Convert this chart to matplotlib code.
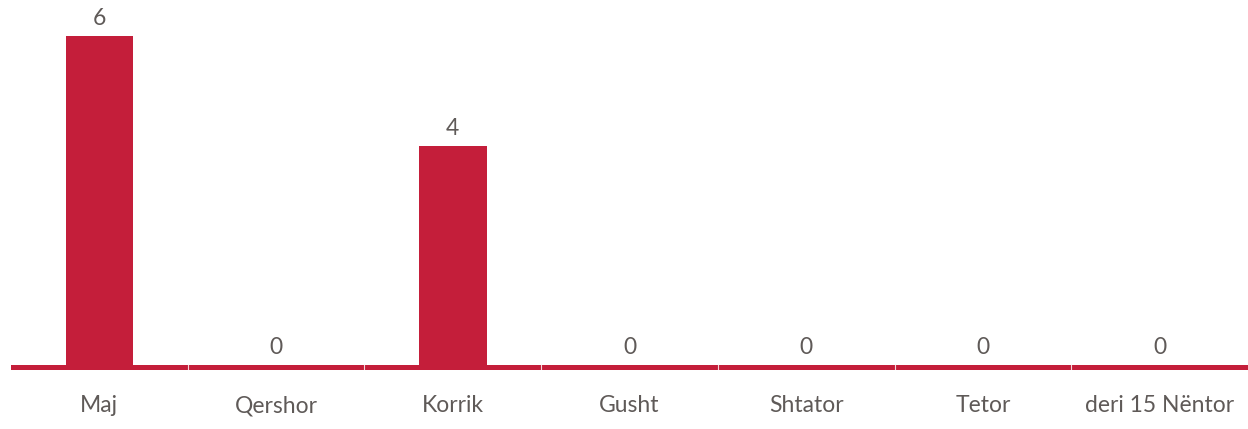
import matplotlib
matplotlib.use('Agg')
import matplotlib.pyplot as plt
import numpy as np

months = ['Maj', 'Qershor', 'Korrik', 'Gusht', 'Shtator', 'Tetor', 'deri 15 Nëntor']
counts = [6, 0, 4, 0, 0, 0, 0]

red = '#c41e3a'
grey = '#5f5a58'

plt.rcParams['font.family'] = ['Lato', 'DejaVu Sans']

fig = plt.figure(figsize=(12.48, 4.29), dpi=100)
# axes spans from baseline bottom (y=370px) up to top of tallest bar (y=36px)
ax = fig.add_axes([11 / 1248, (429 - 370) / 429, 1237 / 1248, (370 - 36) / 429])

px = 6 / 329.0
x = np.arange(len(months))
ax.bar(x, counts, width=0.383, color=red, zorder=2)
ax.set_xlim(-0.5, len(months) - 0.5)
ax.set_ylim(-5 * px, 6)

# thick baseline with small separators
ax.axhspan(-5 * px, 0, color=red, zorder=3, lw=0)
for b in np.arange(0.5, len(months) - 0.5):
    ax.plot([b, b], [-5 * px, 0], color='#f3d6da', lw=0.8, zorder=4)

for xi, v in zip(x, counts):
    ax.text(xi, v + 7 * px, str(v), ha='center', va='bottom', fontsize=16.5,
            color=grey, clip_on=False)

ax.set_xticks(x)
ax.set_xticklabels(months, fontsize=16.5, color=grey)
ax.tick_params(axis='x', length=0, pad=18)
ax.set_yticks([])
for s in ax.spines.values():
    s.set_visible(False)

fig.savefig('out.png', dpi=100)
